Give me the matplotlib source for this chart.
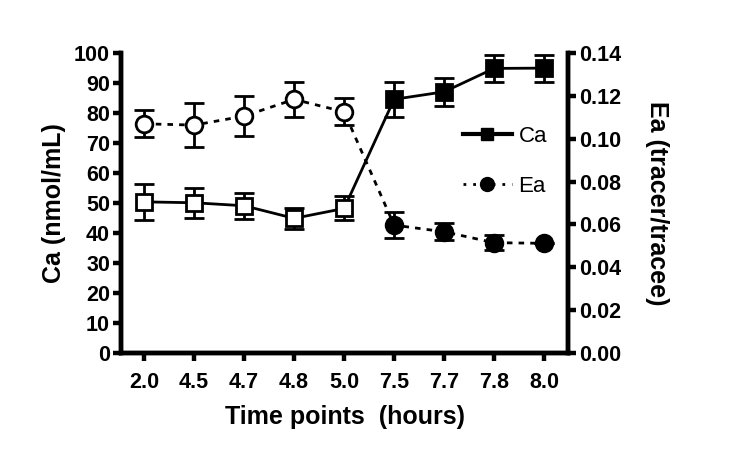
import matplotlib
matplotlib.use('Agg')
import matplotlib.pyplot as plt
from matplotlib.lines import Line2D
import numpy as np

plt.rcParams.update({
    'font.family': ['Liberation Sans', 'DejaVu Sans'],
    'font.weight': 'bold',
})

# data
times  = ['2.0', '4.5', '4.7', '4.8', '5.0', '7.5', '7.7', '7.8', '8.0']
ca     = [50.4, 50.1, 49.1, 44.9, 48.2, 84.6, 87.1, 94.9, 95.0]
ca_err = [6.0, 5.0, 4.3, 3.5, 4.0, 5.8, 4.6, 4.4, 4.5]
ea     = [0.107, 0.1064, 0.1106, 0.1184, 0.1126, 0.0597, 0.0566, 0.0515, 0.0512]
ea_err = [0.0063, 0.0103, 0.0094, 0.0080, 0.0063, 0.0060, 0.0039, 0.0035, 0.0]
n_open = 5   # first 5 points drawn as open symbols

x = np.arange(len(times))
LW = 2.0
SP = 3.2

fig = plt.figure(figsize=(7.34, 4.66), dpi=100)
ax = fig.add_axes([0.165, 0.2425, 0.609, 0.6435])
ax2 = ax.twinx()

# Ca on left axis
ax.plot(x, ca, color='black', lw=LW, zorder=3)
ax.errorbar(x, ca, yerr=ca_err, fmt='none', ecolor='black', elinewidth=LW,
            capsize=7, capthick=LW, zorder=4)
ax.plot(x[:n_open], ca[:n_open], 's', ms=11, mfc='white', mec='black', mew=LW, zorder=5)
ax.plot(x[n_open:], ca[n_open:], 's', ms=11, mfc='black', mec='black', mew=LW, zorder=5)

# Ea on right axis
ax2.plot(x, ea, color='black', lw=LW, ls=(0, (2, 2.2)), zorder=3)
ax2.errorbar(x, ea, yerr=ea_err, fmt='none', ecolor='black', elinewidth=LW,
             capsize=7, capthick=LW, zorder=4)
ax2.plot(x[:n_open], ea[:n_open], 'o', ms=12, mfc='white', mec='black', mew=LW, zorder=5)
ax2.plot(x[n_open:], ea[n_open:], 'o', ms=12, mfc='black', mec='black', mew=LW, zorder=5)

ax.set_xlim(-0.46, 8.48)
ax.set_ylim(0, 100)
ax2.set_ylim(0, 0.14)
ax.set_xticks(x)
ax.set_xticklabels(times)
ax.set_yticks(np.arange(0, 101, 10))
ax2.set_yticks(np.arange(0, 0.141, 0.02))
ax2.set_yticklabels([f'{v:.2f}' for v in np.arange(0, 0.141, 0.02)])

for a in (ax, ax2):
    for s in a.spines.values():
        s.set_linewidth(SP)
    a.spines['top'].set_visible(False)
    a.tick_params(width=SP, length=6, labelsize=15.5, pad=2, direction='out')
ax.tick_params(axis='x', pad=8)

ax.set_xlabel('Time points  (hours)', fontsize=18, fontweight='bold', labelpad=8)
ax.set_ylabel('Ca (nmol/mL)', fontsize=18, fontweight='bold', labelpad=6)
ax2.set_ylabel('Ea (tracer/tracee)', fontsize=18, fontweight='bold',
               rotation=270, labelpad=34)

handles = [
    Line2D([], [], color='black', lw=3, marker='s', ms=9),
    Line2D([], [], color='black', lw=2, ls=(0, (1, 2.5)), marker='o', ms=10),
]
ax2.legend(handles, ['Ca', 'Ea'], loc='center left', bbox_to_anchor=(0.72, 0.64),
           frameon=False, prop={'size': 16, 'weight': 'normal'},
           handlelength=2.2, handletextpad=0.3, labelspacing=1.3)

plt.savefig('out.png', dpi=100, facecolor='white')
